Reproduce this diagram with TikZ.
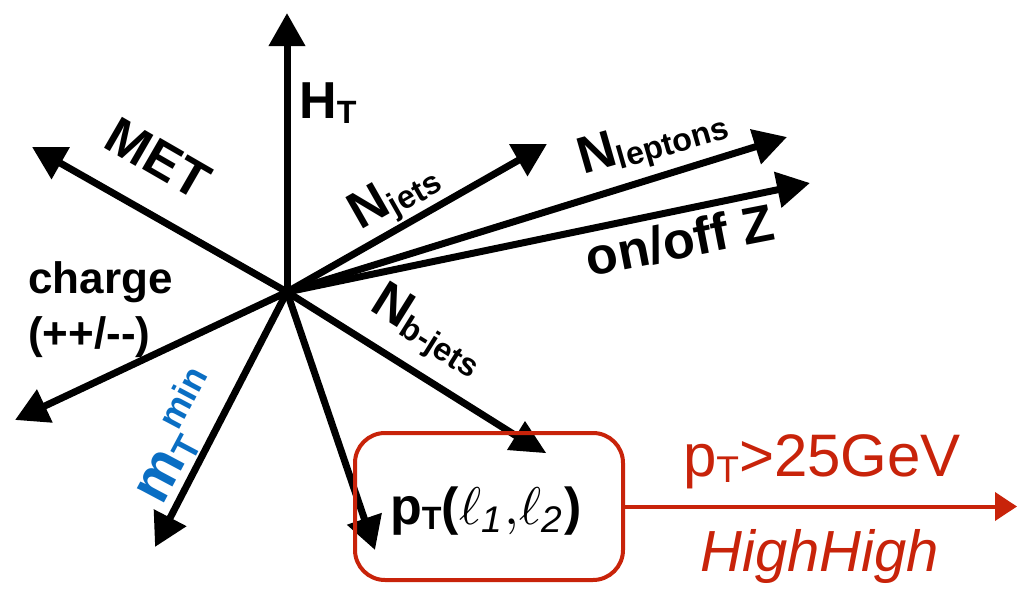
\documentclass[tikz,border=0pt]{standalone}
\usepackage{fontspec}
\setmainfont{Liberation Sans}
\usetikzlibrary{arrows.meta}
\definecolor{myred}{RGB}{200,35,10}
\definecolor{myblue}{RGB}{10,110,195}
\newcommand\lsub[1]{\raisebox{-0.1em}{\scalebox{0.62}{#1}}}
\newcommand\lsup[1]{\raisebox{0.36em}{\scalebox{0.62}{#1}}}
\begin{document}
\begin{tikzpicture}[x=1pt,y=-1pt,
  vec/.style={line width=7pt,-{Triangle[length=33pt,width=35pt]}},
  lbl/.style={font=\fontsize{52}{52}\selectfont\bfseries, inner sep=0pt},
  redtxt/.style={font=\fontsize{60}{60}\selectfont, text=myred, inner sep=0pt}]
\useasboundingbox (0,0) rectangle (1021,589);
\coordinate (o) at (287,292);
\coordinate (ht) at (287,13);
\coordinate (met) at (32,147);
\coordinate (nj) at (547,144);
\coordinate (nl) at (787,137);
\coordinate (z) at (810,183);
\coordinate (nb) at (518,437);
\coordinate (ch) at (15,420);
\coordinate (mt) at (155,547);
\coordinate (pt) at (375,550);
\draw[vec] (o) -- (ht);
\draw[vec] (o) -- (met);
\draw[vec] (o) -- (nj);
\draw[vec] (o) -- (nl);
\draw[vec] (o) -- (z);
\draw[vec] (o) -- (ch);
\draw[vec] (o) -- (mt);
\draw[vec] (o) -- (pt);
\draw[line width=7pt] (o) -- (nb);
\fill (525,421) -- (546,453) -- (507,450) -- cycle;
% labels
\node[lbl, anchor=base west] (htl) at (299,118) {H\lsub{T}};
\node[lbl, rotate=-30] (metl) at (158,158) {MET};
\node[lbl, rotate=29.6] (njl) at (395,197) {N\lsub{jets}};
\node[lbl, rotate=16] (nll) at (653,142) {N\lsub{leptons}};
\node[lbl, rotate=11] (zl) at (680,240) {on/off Z};
\node[lbl, rotate=-32] (nbl) at (427,332) {N\lsub{b-jets}};
\node[font=\fontsize{44}{55}\selectfont\bfseries, inner sep=0pt, anchor=base west, align=left] (chl) at (28,348) {charge\\(++/{-}{-})};
\node[lbl, font=\fontsize{58}{58}\selectfont\bfseries, text=myblue, rotate=62] (mtl) at (177,436) {m\lsub{T}\lsup{min}};
% box
\node[draw=myred, line width=4pt, rounded corners=30pt, minimum width=268pt, minimum height=147pt] (box) at (489,506.5) {};
\node[lbl] (ptl) at (486,511) {p\lsub{T}(\scalebox{5.3}{\normalsize$\ell_{\mathit{1}}{,}\ell_{\mathit{2}}$})};
\coordinate (rend) at (1017,506.5);
\draw[myred, line width=4pt, -{Triangle[length=22pt,width=28pt]}] (box.east) -- (rend);
\node[redtxt] (cut) at (822,462) {p\lsub{T}>25GeV};
\node[redtxt, font=\fontsize{58}{58}\selectfont\itshape] (hh) at (820,556) {HighHigh};
\end{tikzpicture}
\end{document}
